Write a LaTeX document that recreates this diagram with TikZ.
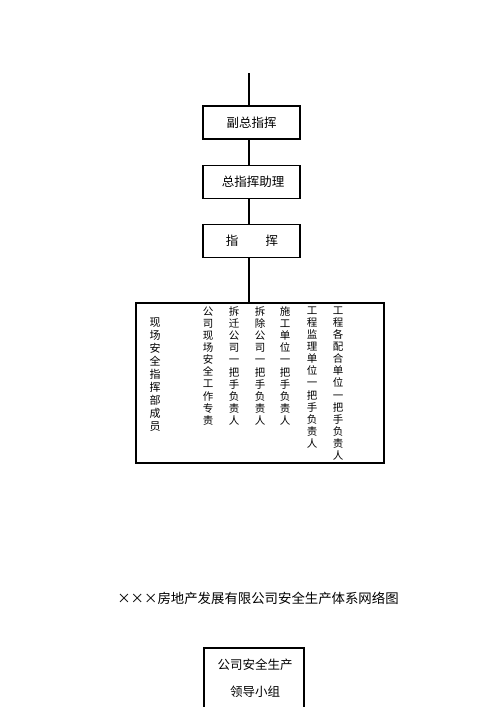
\documentclass[tikz,border=0pt]{standalone}
\usepackage{fontspec}
\setmainfont{Noto Sans CJK SC}
\begin{document}
\begin{tikzpicture}[x=1pt,y=-1pt,
  box/.style={draw,line width=1.6pt,inner sep=0pt},
  conn/.style={line width=1.8pt},
  lbl/.style={font=\fontsize{12.5}{13}\selectfont},
  col/.style={anchor=north,align=center,inner sep=0pt,font=\fontsize{10.5}{12.1}\selectfont},
  col2/.style={anchor=north,align=center,inner sep=0pt,font=\fontsize{11}{12.9}\selectfont}]
\useasboundingbox (0,0) rectangle (500,707);
% top free end
\coordinate (top) at (249,73);
% boxes
\node[box,minimum width=97pt,minimum height=33pt] (b1) at (251.5,122.5) {};
\node[lbl] (t1) at (251.5,122.5) {副总指挥};
\node[box,minimum width=97pt,minimum height=33pt] (b2) at (251.5,182) {};
\node[lbl] (t2) at (253,182) {总指挥助理};
\node[box,minimum width=97pt,minimum height=33pt] (b3) at (251.5,241) {};
\node[lbl] (t3) at (252,241) {指\hspace{2.2em}挥};
\node[box,minimum width=248pt,minimum height=160pt] (big) at (260,383) {};
% connectors
\draw[conn] (top) -- (top |- b1.north);
\draw[conn] (top |- b1.south) -- (top |- b2.north);
\draw[conn] (top |- b2.south) -- (top |- b3.north);
\draw[conn] (top |- b3.south) -- (top |- big.north);
% vertical columns
\node[col2] (m0) at (155,318) {现\\场\\安\\全\\指\\挥\\部\\成\\员};
\node[col] (m1) at (208,306.5) {公\\司\\现\\场\\安\\全\\工\\作\\专\\责};
\node[col] (m2) at (234,306.5) {拆\\迁\\公\\司\\一\\把\\手\\负\\责\\人};
\node[col] (m3) at (260,306.5) {拆\\除\\公\\司\\一\\把\\手\\负\\责\\人};
\node[col] (m4) at (285,306.5) {施\\工\\单\\位\\一\\把\\手\\负\\责\\人};
\node[col] (m5) at (312,306.5) {工\\程\\监\\理\\单\\位\\一\\把\\手\\负\\责\\人};
\node[col] (m6) at (338,306.5) {工\\程\\各\\配\\合\\单\\位\\一\\把\\手\\负\\责\\人};
% title
\node[font=\fontsize{13.4}{15}\selectfont] (title) at (258,598) {×××房地产发展有限公司安全生产体系网络图};
% bottom box
\draw[line width=1.6pt] (204,715) -- (204,648) -- (304,648) -- (304,715);
\node[lbl] (bt1) at (255,665) {公司安全生产};
\node[lbl] (bt2) at (255,692) {领导小组};
\end{tikzpicture}
\end{document}
